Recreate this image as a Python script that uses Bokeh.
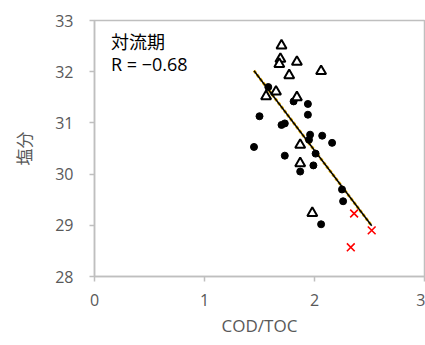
from bokeh.plotting import figure
from bokeh.embed import file_html
from bokeh.resources import INLINE
from bokeh.models import Range1d, FixedTicker, Label
from bokeh.core.properties import value

# Data
tri_x = [1.70, 1.69, 1.68, 1.84, 2.06, 1.77, 1.65, 1.56, 1.84, 1.87, 1.87, 1.98]
tri_y = [32.51, 32.25, 32.15, 32.19, 32.01, 31.93, 31.61, 31.52, 31.50, 30.57, 30.21, 29.24]

dot_x = [1.58, 1.81, 1.94, 1.50, 1.94, 1.70, 1.73, 1.96, 1.95, 2.07, 2.16, 1.45,
         1.73, 2.01, 1.99, 1.87, 2.25, 2.26, 2.06]
dot_y = [31.70, 31.42, 31.37, 31.13, 31.16, 30.96, 30.99, 30.77, 30.67, 30.75, 30.61, 30.53,
         30.36, 30.40, 30.17, 30.05, 29.70, 29.47, 29.02]

cross_x = [2.36, 2.52, 2.33]
cross_y = [29.23, 28.90, 28.57]

trend_x = [1.45, 2.52]
trend_y = [32.02, 28.99]

x_ticks = [0, 1, 2, 3]
y_ticks = [28, 29, 30, 31, 32, 33]

p = figure(width=425, height=345, output_backend="svg", toolbar_location=None,
           x_range=Range1d(0, 3), y_range=Range1d(28, 33),
           min_border_left=94, min_border_right=1, min_border_top=20, min_border_bottom=69)
p.xgrid.visible = False
p.ygrid.visible = False
p.outline_line_color = "#bfbfbf"
p.outline_line_width = 1.5

num_font = "Open Sans"
gray = "#595959"
for ax in (p.xaxis[0], p.yaxis[0]):
    ax.axis_line_color = "#bfbfbf"
    ax.axis_line_width = 1.5
    ax.major_tick_line_color = "#bfbfbf"
    ax.major_tick_line_width = 1.5
    ax.major_tick_out = 5
    ax.major_tick_in = 0
    ax.minor_tick_line_color = None
    ax.major_label_text_font = num_font
    ax.major_label_text_font_size = "16px"
    ax.major_label_text_color = gray
    ax.axis_label_text_color = gray
    ax.axis_label_text_font_style = "normal"
    ax.axis_label_text_font_size = "17px"

p.xaxis[0].ticker = FixedTicker(ticks=x_ticks)
p.yaxis[0].ticker = FixedTicker(ticks=y_ticks)
p.xaxis[0].axis_label = "COD/TOC"
p.xaxis[0].axis_label_text_font = num_font
p.xaxis[0].major_label_standoff = 12
p.xaxis[0].axis_label_standoff = 5
p.yaxis[0].axis_label = "塩分"
p.yaxis[0].axis_label_text_font = "Noto Sans CJK JP"
p.yaxis[0].major_label_standoff = 16
p.yaxis[0].axis_label_standoff = 16

p.line(trend_x, trend_y, line_color="#f2b800", line_width=3, line_dash="3 2")
p.line(trend_x, trend_y, line_color="black", line_width=1.5)

p.scatter(dot_x, dot_y, marker="circle", size=7, fill_color="black", line_color="black")
p.scatter(tri_x, tri_y, marker="triangle", size=10, fill_color="white", line_color="black", line_width=2)
p.scatter(cross_x, cross_y, marker="x", size=11, line_color="#ff0000", line_width=1.6)

p.add_layout(Label(x=0.15, y=32.60, text="対流期",
                   text_font="Noto Sans CJK JP", text_font_size="18px", text_color="black",
                   text_baseline="middle"))
p.add_layout(Label(x=0.15, y=32.15, text="R = −0.68",
                   text_font=num_font, text_font_size="18px", text_color="black",
                   text_baseline="middle"))

open("out.html", "w").write(file_html(p, INLINE))
